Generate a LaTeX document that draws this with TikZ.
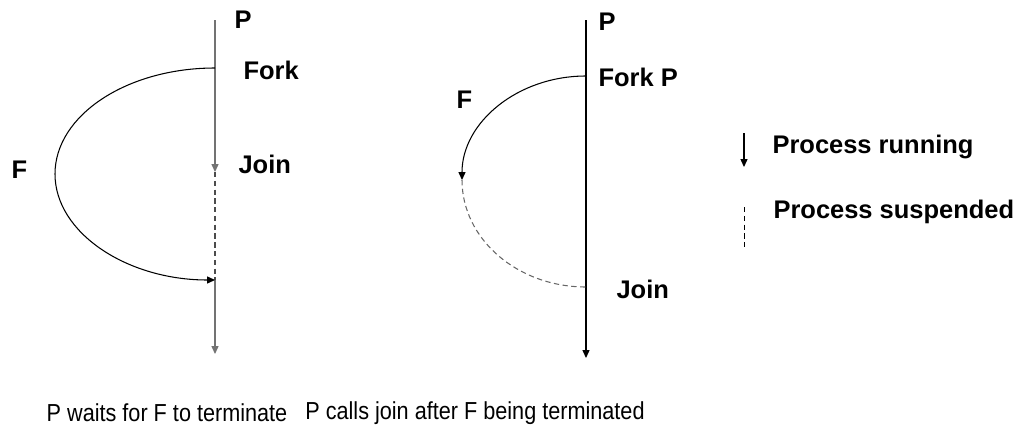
\documentclass[tikz,border=0pt]{standalone}
\usepackage{fontspec}
\setmainfont{Liberation Sans}
\usetikzlibrary{
	arrows.meta,
	positioning
}

\begin{document}
\begin{tikzpicture}[
			x=0.02cm, y=0.02cm,
			line width=0.6pt,
			tip/.style={-{Triangle[length=4.5pt,width=4pt]}},
			suspenso/.style={dash pattern=on 3pt off 2pt},
			rotulo/.style={inner sep=0pt, anchor=west, font=\fontsize{14.5}{16}\selectfont\bfseries},
			legenda/.style={inner sep=0pt, font=\fontsize{14}{16}\selectfont}
		]
		\useasboundingbox (0,0) rectangle (1018,444);

		% esquerda: P espera F terminar
		\coordinate (pA) at (215,424);
		\coordinate (forkA) at (215,376);
		\coordinate (joinA) at (215,272);
		\coordinate (fimA) at (215,164);
		\coordinate (baseA) at (215,90);

		\draw[black!55] (pA) -- (forkA);
		\draw[black!55, tip] (forkA) -- (joinA);
		\draw[black!70, suspenso] (joinA) -- (fimA);
		\draw[black!55, tip] (fimA) -- (baseA);
		\draw[tip] (forkA) arc[start angle=90, end angle=270, x radius=160, y radius=106];

		\node[rotulo] (lpA) at (234,424) {P};
		\node[rotulo] (lforkA) at (243,374) {Fork};
		\node[rotulo] (ljoinA) at (238,280) {Join};
		\node[rotulo] (lfA) at (11,274) {F};

		% direita: P chama join depois de F terminar
		\coordinate (pB) at (586,424);
		\coordinate (forkB) at (586,368);
		\coordinate (joinB) at (586,157);
		\coordinate (baseB) at (586,86);

		\draw[tip] (pB) -- (baseB);
		\draw[tip] (forkB) arc[start angle=90, end angle=180, x radius=124, y radius=104]
			coordinate (fimB);
		\draw[black!60, suspenso] (fimB) arc[start angle=180, end angle=270, x radius=124, y radius=107];

		\node[rotulo] (lpB) at (598,422) {P};
		\node[rotulo] (lforkB) at (598,367) {Fork P};
		\node[rotulo] (lfB) at (456,344) {F};
		\node[rotulo] (ljoinB) at (616,155) {Join};

		% legenda
		\coordinate (runA) at (744,311);
		\coordinate (runB) at (744,277);
		\coordinate (susA) at (744,237);
		\coordinate (susB) at (744,196);
		\draw[tip] (runA) -- (runB);
		\draw[suspenso, line width=0.5pt] (susA) -- (susB);
		\node[rotulo] (lrun) at (772,297) {Process running};
		\node[rotulo] (lsus) at (773,232) {Process suspended};

		\node[legenda] (capA) at (167,31) {\scalebox{0.88}[1]{P waits for F to terminate}};
		\node[legenda] (capB) at (475,31) {\scalebox{0.88}[1]{P calls join after F being terminated}};
	\end{tikzpicture}
\end{document}
